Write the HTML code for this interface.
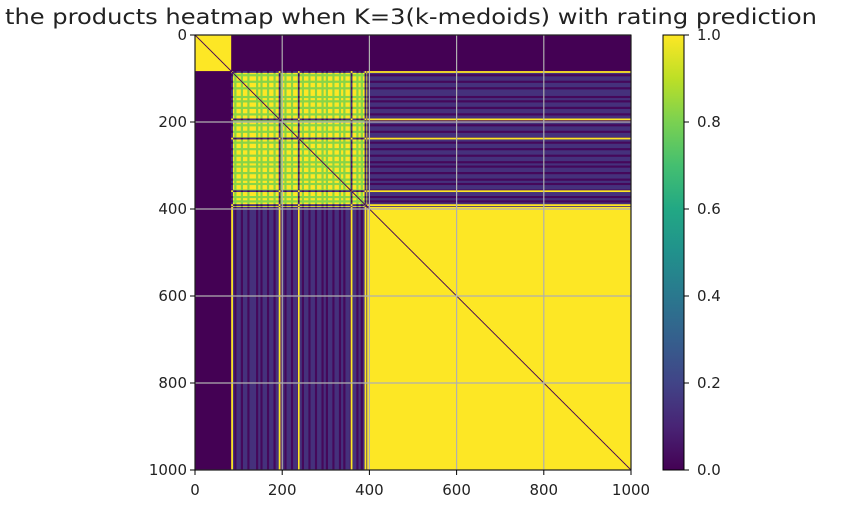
<!DOCTYPE html>
<html><head><meta charset="utf-8"><style>
html,body{margin:0;padding:0;background:#fff;width:844px;height:516px;overflow:hidden;position:relative}
#hm{position:absolute;left:195px;top:35px;width:436px;height:435px}
#ov{position:absolute;left:0;top:0}
text{font-family:"DejaVu Sans","Liberation Sans",sans-serif;fill:#222}
</style></head><body>
<canvas id="hm" width="1000" height="1000"></canvas>
<svg id="ov" width="844" height="516">
<defs><linearGradient id="vir" x1="0" y1="1" x2="0" y2="0">
<stop offset="0" stop-color="#440154"/><stop offset=".1" stop-color="#482475"/><stop offset=".2" stop-color="#414487"/><stop offset=".3" stop-color="#355f8d"/><stop offset=".4" stop-color="#2a788e"/><stop offset=".5" stop-color="#21918c"/><stop offset=".6" stop-color="#22a884"/><stop offset=".7" stop-color="#44bf70"/><stop offset=".8" stop-color="#7ad151"/><stop offset=".9" stop-color="#bddf26"/><stop offset="1" stop-color="#fde725"/></linearGradient></defs>
<text x="411" y="24" text-anchor="middle" font-size="21" textLength="812" lengthAdjust="spacingAndGlyphs">the products heatmap when K=3(k-medoids) with rating prediction</text>
<g id="grid"></g>
<rect x="195" y="35" width="436" height="435" fill="none" stroke="#000" stroke-width="1"/>
<g id="ticks"></g>
<rect x="663" y="35" width="21" height="435" fill="url(#vir)" stroke="#000" stroke-width="1"/>
<g id="cbt"></g>
</svg>
<script>
const axisTicks=[0,200,400,600,800,1000];
const cbTicks=[0,0.2,0.4,0.6,0.8,1.0];
const clusterBounds=[0,85,395,1000];
const specialItems=[83,192,236,357,389];
const bTone=[1,0,1,1,0,1,1,0,1,1,1,0,1,0,1,1,0,1,1,0,1,1,0,1,0,1,1,0,1,1,0,1,0,1,1,0,1,1,0,1,1,0,1,0,1,1,0,1,1,0,1,0,1,1,0,1,1,0,1,0,1,1];
const N=1000,PX=195,PY=35,PW=436,PH=435;
const sx=v=>PX+v/N*PW, sy=v=>PY+v/N*PH;
const vir=[[68,1,84],[72,36,117],[65,68,135],[53,95,141],[42,120,142],[33,145,140],[34,168,132],[68,191,112],[122,209,81],[189,223,38],[253,231,37]];
function cmap(v){v=Math.max(0,Math.min(1,v));const f=v*10,i=Math.min(9,Math.floor(f)),t=f-i,a=vir[i],b=vir[i+1];return [a[0]+(b[0]-a[0])*t,a[1]+(b[1]-a[1])*t,a[2]+(b[2]-a[2])*t];}
function cluster(i){for(const s of specialItems){if(i>=s&&i<s+4)return 2;}return i<clusterBounds[1]?0:(i<clusterBounds[2]?1:2);}
function tone(i){if(i<clusterBounds[1]||i>=clusterBounds[2])return 1;return bTone[Math.min(bTone.length-1,Math.floor((i-clusterBounds[1])/5))];}
function val(i,j){
  if(Math.abs(i-j)<=1)return 0;
  const ci=cluster(i),cj=cluster(j);
  if(ci===cj){ if(ci===1) return (tone(i)&&tone(j))?1:0.82; return 1;}
  if((ci===1&&cj===2)||(ci===2&&cj===1)){const k=ci===1?i:j;return tone(k)?0.14:0.02;}
  return 0;
}
const cv=document.getElementById('hm'),ctx=cv.getContext('2d'),img=ctx.createImageData(N,N);
for(let i=0;i<N;i++)for(let j=0;j<N;j++){const c=cmap(val(i,j)),p=(i*N+j)*4;img.data[p]=c[0];img.data[p+1]=c[1];img.data[p+2]=c[2];img.data[p+3]=255;}
ctx.putImageData(img,0,0);
const NS='http://www.w3.org/2000/svg';
function mk(tag,at,parent){const e=document.createElementNS(NS,tag);for(const k in at)e.setAttribute(k,at[k]);parent.appendChild(e);return e;}
const g=document.getElementById('grid'),tk=document.getElementById('ticks'),cb=document.getElementById('cbt');
axisTicks.forEach(v=>{
  const gx=mk('line',{x1:sx(v),x2:sx(v),y1:PY,y2:PY+PH,stroke:'#b0b0b0','stroke-width':1.2},g);
  
  
  const gy=mk('line',{x1:PX,x2:PX+PW,y1:sy(v),y2:sy(v),stroke:'#b0b0b0','stroke-width':1.2},g);
  
  
  mk('line',{x1:sx(v),x2:sx(v),y1:PY+PH,y2:PY+PH+5,stroke:'#000'},tk);
  mk('line',{x1:PX-5,x2:PX,y1:sy(v),y2:sy(v),stroke:'#000'},tk);
  const xl=mk('text',{x:sx(v),y:PY+PH+25,'text-anchor':'middle','font-size':15},tk);xl.textContent=v;
  
  
  const yl=mk('text',{x:PX-8,y:sy(v)+5,'text-anchor':'end','font-size':15},tk);yl.textContent=v;
  
  
});
cbTicks.forEach(v=>{
  const y=PY+PH-v*PH;
  mk('line',{x1:684,x2:689,y1:y,y2:y,stroke:'#000'},cb);
  const t=mk('text',{x:697,y:y+5,'font-size':15},cb);t.textContent=v.toFixed(1);
  
  
});
</script>
</body></html>
